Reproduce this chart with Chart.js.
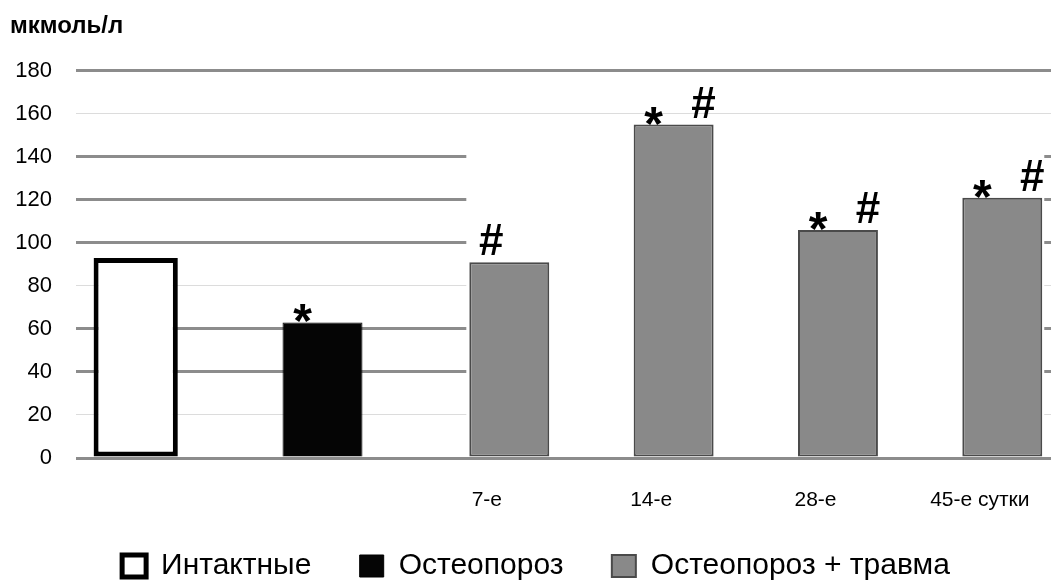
<!DOCTYPE html>
<html>
<head>
<meta charset="utf-8">
<script src="https://cdn.jsdelivr.net/npm/chart.js@4.4.1/dist/chart.umd.min.js"></script>
<style>
  html, body { margin: 0; padding: 0; background: #fff; overflow: hidden; }
  #wrap { width: 1062px; height: 583px; }
</style>
</head>
<body>
<div id="wrap"><canvas id="chart" width="1062" height="583"></canvas></div>
<script>
// values
const yUnit = 'мкмоль/л';
const categories = ['', '', '7-е', '14-е', '28-е', '45-е сутки'];
const seriesNames = ['Интактные', 'Остеопороз', 'Остеопороз + травма'];
const intactValues = [93, null, null, null, null, null];
const osteoValues = [null, 63, null, null, null, null];
const traumaValues = [null, null, 91, 155, 106, 121];
const starMarks = [false, true, false, true, true, true];
const hashMarks = [false, false, true, true, true, true];

// thin light grid lines, the rest are thick grey
const lightLines = [20, 80, 160];
const fontFamily = "'Liberation Sans', Arial, sans-serif";

// the picture has the grid cut away behind the grey bars
const gridGap = {
    id: 'gridGap',
    beforeDatasetsDraw(chart) {
        const meta = chart.getDatasetMeta(2);
        const bars = meta.data.filter((b, i) => traumaValues[i] !== null);
        if (!bars.length) return;
        const first = bars[0], last = bars[bars.length - 1];
        const y = chart.scales.y;
        const ctx = chart.ctx;
        ctx.save();
        ctx.fillStyle = '#fff';
        const left = first.x - first.width / 2 - 3;
        const right = last.x + last.width / 2 + 2;
        const top = y.getPixelForValue(150);
        const bottom = y.getPixelForValue(0) - 2;
        ctx.fillRect(left, top, right - left, bottom - top);
        ctx.restore();
    }
};

// * and # signs above bars
const signs = {
    id: 'signs',
    afterDatasetsDraw(chart) {
        const ctx = chart.ctx;
        ctx.save();
        ctx.fillStyle = '#000';
        ctx.textAlign = 'center';
        ctx.textBaseline = 'alphabetic';
        categories.forEach((c, i) => {
            let bar = null;
            chart.data.datasets.forEach((ds, d) => {
                if (ds.data[i] !== null) bar = chart.getDatasetMeta(d).data[i];
            });
            if (!bar) return;
            const left = bar.x - bar.width / 2;
            const right = bar.x + bar.width / 2;
            if (starMarks[i]) {
                ctx.font = 'bold 48px ' + fontFamily;
                ctx.fillText('*', left + 20, bar.y + 15);
            }
            if (hashMarks[i]) {
                ctx.font = 'bold 44px ' + fontFamily;
                ctx.fillText('#', starMarks[i] ? right - 10 : left + 22, bar.y - 7);
            }
        });
        ctx.restore();
    }
};

new Chart(document.getElementById('chart'), {
    type: 'bar',
    data: {
        labels: categories,
        datasets: [{
            label: seriesNames[0],
            data: intactValues,
            backgroundColor: '#ffffff',
            borderColor: '#000000',
            borderWidth: 5,
            borderSkipped: false,
            barPercentage: 3.75
        }, {
            label: seriesNames[1],
            data: osteoValues,
            backgroundColor: '#050505',
            borderColor: '#000000',
            borderWidth: 1,
            barPercentage: 3.56
        }, {
            label: seriesNames[2],
            data: traumaValues,
            backgroundColor: '#898989',
            borderColor: '#4a4a4a',
            borderWidth: 2,
            borderSkipped: false,
            barPercentage: 3.56
        }]
    },
    options: {
        responsive: false,
        animation: false,
        layout: { padding: { left: 10, right: 0, top: 0, bottom: -8 } },
        datasets: { bar: { categoryPercentage: 0.41 } },
        plugins: {
            title: {
                display: true,
                text: yUnit,
                align: 'start',
                color: '#000',
                font: { family: fontFamily, size: 24, weight: 'bold' },
                padding: { top: 12, bottom: 30 }
            },
            legend: {
                position: 'bottom',
                labels: {
                    boxWidth: 24,
                    boxHeight: 22,
                    padding: 40,
                    color: '#000',
                    font: { family: fontFamily, size: 30 },
                    // a trailing space widens the gap between items
                    generateLabels: chart => Chart.defaults.plugins.legend.labels.generateLabels(chart)
                        .map((item, i, all) => ({ ...item, text: i < all.length - 1 ? item.text + ' ' : item.text }))
                }
            },
            tooltip: { enabled: false }
        },
        scales: {
            x: {
                grid: { display: false },
                border: { display: false },
                ticks: {
                    color: '#000',
                    font: { family: fontFamily, size: 21 },
                    padding: 22,
                    maxRotation: 0,
                    autoSkip: false
                },
                afterFit: s => { s.height = 53; }
            },
            y: {
                min: 0,
                max: 180,
                border: { display: false },
                grid: {
                    drawTicks: false,
                    color: c => lightLines.includes(c.tick.value) ? '#dcdcdc' : '#8c8c8c',
                    lineWidth: c => lightLines.includes(c.tick.value) ? 1 : 3
                },
                ticks: {
                    stepSize: 20,
                    padding: 24,
                    color: '#000',
                    font: { family: fontFamily, size: 22 }
                },
                afterFit: s => { s.width = 66; }
            }
        }
    },
    plugins: [gridGap, signs]
});
</script>
</body>
</html>
